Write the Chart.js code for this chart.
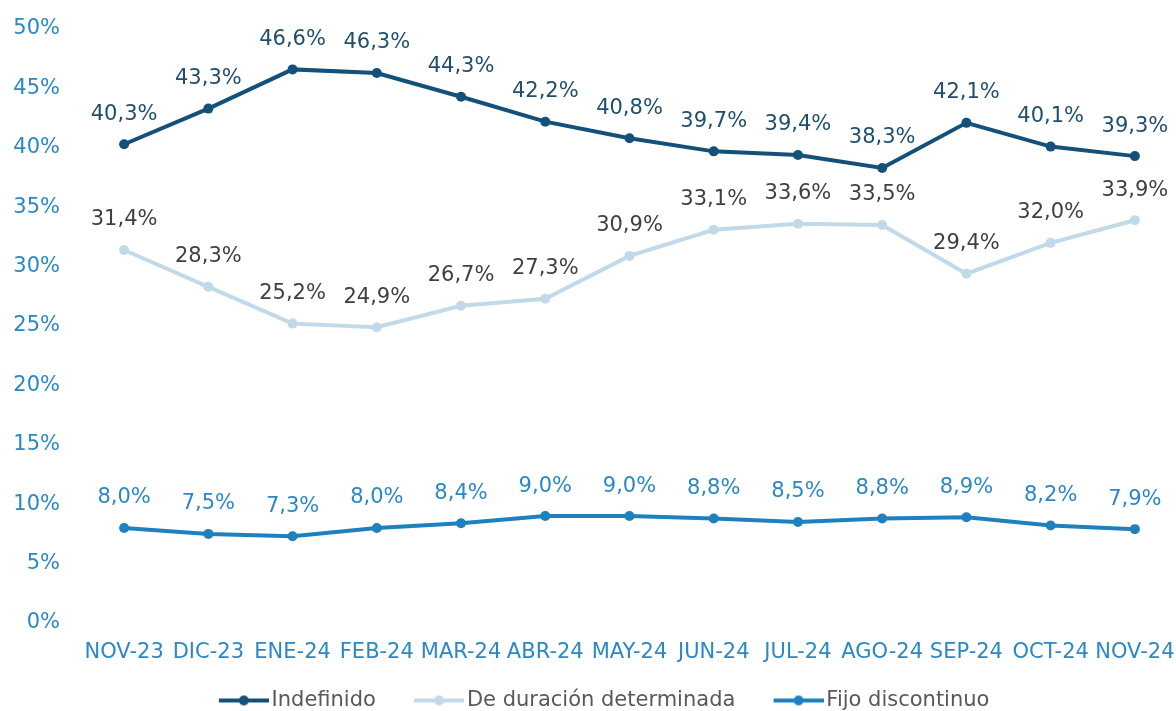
<!DOCTYPE html>
<html>
<head>
<meta charset="utf-8">
<script src="https://cdn.jsdelivr.net/npm/chart.js@4.4.1/dist/chart.umd.min.js"></script>
<style>
  html, body { margin: 0; padding: 0; background: #fff; overflow: hidden; }
  #wrap { width: 1182px; height: 721px; position: relative; }
</style>
</head>
<body>
<div id="wrap"><canvas id="line-chart"></canvas></div>
<script>
// DATA
var months = ["NOV-23", "DIC-23", "ENE-24", "FEB-24", "MAR-24", "ABR-24", "MAY-24",
              "JUN-24", "JUL-24", "AGO-24", "SEP-24", "OCT-24", "NOV-24"];
var indefinido = [40.3, 43.3, 46.6, 46.3, 44.3, 42.2, 40.8, 39.7, 39.4, 38.3, 42.1, 40.1, 39.3];
var determinada = [31.4, 28.3, 25.2, 24.9, 26.7, 27.3, 30.9, 33.1, 33.6, 33.5, 29.4, 32.0, 33.9];
var fijo = [8.0, 7.5, 7.3, 8.0, 8.4, 9.0, 9.0, 8.8, 8.5, 8.8, 8.9, 8.2, 7.9];
var yTicks = [0, 5, 10, 15, 20, 25, 30, 35, 40, 45, 50];

var FONT = "'DejaVu Sans', Verdana, sans-serif";
var TICK_COLOR = "#2A88C8";

function fmt(v) {
  return v.toFixed(1).replace(".", ",") + "%";
}

// legend icon: line with a dot, drawn on the right part of a wider canvas
function legendIcon(color) {
  var c = document.createElement("canvas");
  c.width = 71;
  c.height = 14;
  var g = c.getContext("2d");
  g.strokeStyle = color;
  g.lineWidth = 4;
  g.beginPath();
  g.moveTo(21, 7);
  g.lineTo(71, 7);
  g.stroke();
  g.fillStyle = color;
  g.beginPath();
  g.arc(46, 7, 5, 0, Math.PI * 2);
  g.fill();
  return c;
}

// value labels above each point
var pointLabels = {
  id: "pointLabels",
  afterDatasetsDraw: function (chart) {
    var ctx = chart.ctx;
    ctx.save();
    ctx.font = "21px " + FONT;
    ctx.textAlign = "center";
    ctx.textBaseline = "middle";
    chart.data.datasets.forEach(function (ds, i) {
      var meta = chart.getDatasetMeta(i);
      ctx.fillStyle = ds.labelColor;
      meta.data.forEach(function (pt, j) {
        ctx.fillText(fmt(ds.data[j]), pt.x, pt.y - 30);
      });
    });
    ctx.restore();
  }
};

var series = [
  { label: "Indefinido", data: indefinido, color: "#13507A", labelColor: "#1F4E6E" },
  { label: "De duración determinada", data: determinada, color: "#C2D9EA", labelColor: "#404040" },
  { label: "Fijo discontinuo", data: fijo, color: "#1F80BF", labelColor: "#2A88C8" }
];

var icons = series.map(function (s) { return legendIcon(s.color); });

var data = {
  labels: months,
  datasets: series.map(function (s) {
    return {
      label: s.label,
      data: s.data,
      borderColor: s.color,
      backgroundColor: s.color,
      pointBackgroundColor: s.color,
      pointBorderColor: s.color,
      borderWidth: 4,
      pointRadius: 5,
      pointBorderWidth: 0,
      tension: 0,
      labelColor: s.labelColor
    };
  })
};

var ctx = document.getElementById("line-chart").getContext("2d");
var myLineChart = new Chart(ctx, {
  type: "line",
  data: data,
  plugins: [pointLabels],
  options: {
    responsive: true,
    maintainAspectRatio: false,
    animation: false,
    layout: {
      padding: { top: 29, left: 13, right: 0, bottom: 0 }
    },
    plugins: {
      legend: {
        display: true,
        position: "bottom",
        labels: {
          usePointStyle: true,
          pointStyleWidth: 55.5,
          padding: 25,
          color: "#595959",
          font: { family: FONT, size: 21 },
          generateLabels: function (chart) {
            var items = Chart.defaults.plugins.legend.labels.generateLabels(chart);
            items.forEach(function (it, i) { it.pointStyle = icons[i]; });
            return items;
          }
        }
      },
      tooltip: { enabled: false }
    },
    scales: {
      x: {
        offset: true,
        grid: { display: false, drawTicks: true, tickLength: 17 },
        border: { display: false },
        ticks: {
          color: TICK_COLOR,
          font: { family: FONT, size: 21 },
          padding: 0,
          maxRotation: 0,
          autoSkip: false
        },
        afterFit: function (axis) {
          axis.height = 42;
          axis.paddingLeft = 0;
          axis.paddingRight = 0;
        }
      },
      y: {
        min: 0,
        max: 50,
        afterBuildTicks: function (axis) {
          axis.ticks = yTicks.map(function (v) { return { value: v }; });
        },
        grid: { display: false, drawTicks: true, tickLength: 22 },
        border: { display: false },
        ticks: {
          color: TICK_COLOR,
          font: { family: FONT, size: 21 },
          padding: 0,
          callback: function (v) { return v + "%"; }
        },
        afterFit: function (axis) {
          axis.width = 69;
          axis.paddingTop = 0;
          axis.paddingBottom = 0;
        }
      }
    }
  }
});
</script>
</body>
</html>
